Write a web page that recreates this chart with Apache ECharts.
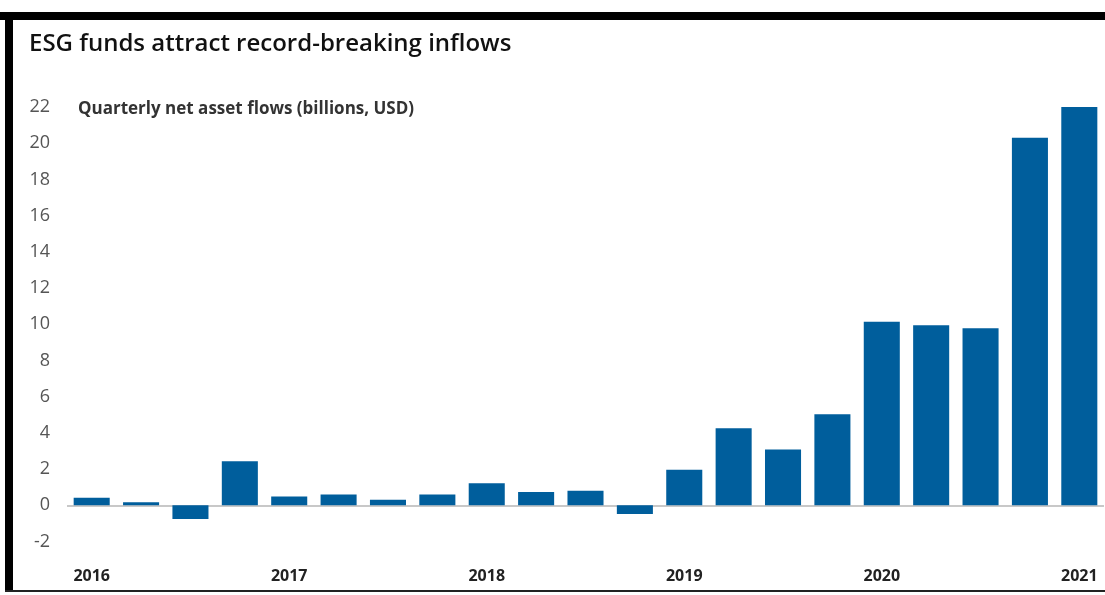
<!DOCTYPE html>
<html>
<head>
<meta charset="utf-8">
<script src="https://cdn.jsdelivr.net/npm/echarts@6/dist/echarts.min.js"></script>
<style>
html,body{margin:0;padding:0;background:#fff;}
#chart{width:1105px;height:595px;}
</style>
</head>
<body>
<div id="chart"></div>
<script>
// Data
const categories = [
  '2016 Q1','2016 Q2','2016 Q3','2016 Q4',
  '2017 Q1','2017 Q2','2017 Q3','2017 Q4',
  '2018 Q1','2018 Q2','2018 Q3','2018 Q4',
  '2019 Q1','2019 Q2','2019 Q3','2019 Q4',
  '2020 Q1','2020 Q2','2020 Q3','2020 Q4',
  '2021 Q1'
];
const flows = [
  0.42, 0.17, -0.76, 2.43,
  0.48, 0.59, 0.31, 0.59,
  1.22, 0.74, 0.81, -0.48,
  1.97, 4.26, 3.08, 5.03,
  10.14, 9.95, 9.78, 20.3,
  22.0
];
const yTicks = { min: -2, max: 22, interval: 2 };
const titleText = 'ESG funds attract record-breaking inflows';
const subtitleText = 'Quarterly net asset flows (billions, USD)';

const chart = echarts.init(document.getElementById('chart'));
chart.setOption({
  animation: false,
  backgroundColor: '#ffffff',
  title: [
    {
      text: titleText,
      left: 24, top: 27,
      textStyle: { fontFamily: 'Open Sans', fontSize: 24, fontWeight: 600, color: '#111' }
    },
    {
      text: subtitleText,
      left: 73, top: 96,
      textStyle: { fontFamily: 'Open Sans', fontSize: 17, fontWeight: 'bold', color: '#333' }
    }
  ],
  graphic: [
    { type: 'rect', shape: { x: 0, y: 12, width: 1105, height: 8 }, style: { fill: '#000' }, silent: true },
    { type: 'rect', shape: { x: 5, y: 12, width: 8, height: 580 }, style: { fill: '#000' }, silent: true },
    { type: 'rect', shape: { x: 5, y: 590, width: 1100, height: 2 }, style: { fill: '#222' }, silent: true }
  ],
  grid: { left: 67, right: 1, top: 107, bottom: 53.5, outerBoundsMode: 'none' },
  xAxis: {
    type: 'category',
    data: categories,
    axisLine: { show: false },
    axisTick: { show: false },
    axisLabel: {
      interval: 3,
      margin: 27,
      formatter: v => v.split(' ')[0],
      fontFamily: 'Open Sans', fontSize: 16, fontWeight: 'bold', color: '#222'
    }
  },
  yAxis: {
    type: 'value',
    min: yTicks.min, max: yTicks.max, interval: yTicks.interval,
    axisLine: { show: false },
    axisTick: { show: false },
    splitLine: { show: false },
    axisLabel: {
      margin: 17,
      fontFamily: 'Open Sans', fontSize: 18, color: '#555'
    }
  },
  series: [{
    type: 'bar',
    data: flows,
    barCategoryGap: '27%',
    itemStyle: { color: '#005E9C' },
    z: 3,
    markLine: {
      silent: true,
      symbol: 'none',
      label: { show: false },
      lineStyle: { color: '#c8c8c8', width: 2, type: 'solid' },
      data: [{ yAxis: 0 }],
      z: 1
    }
  }]
});
</script>
</body>
</html>
